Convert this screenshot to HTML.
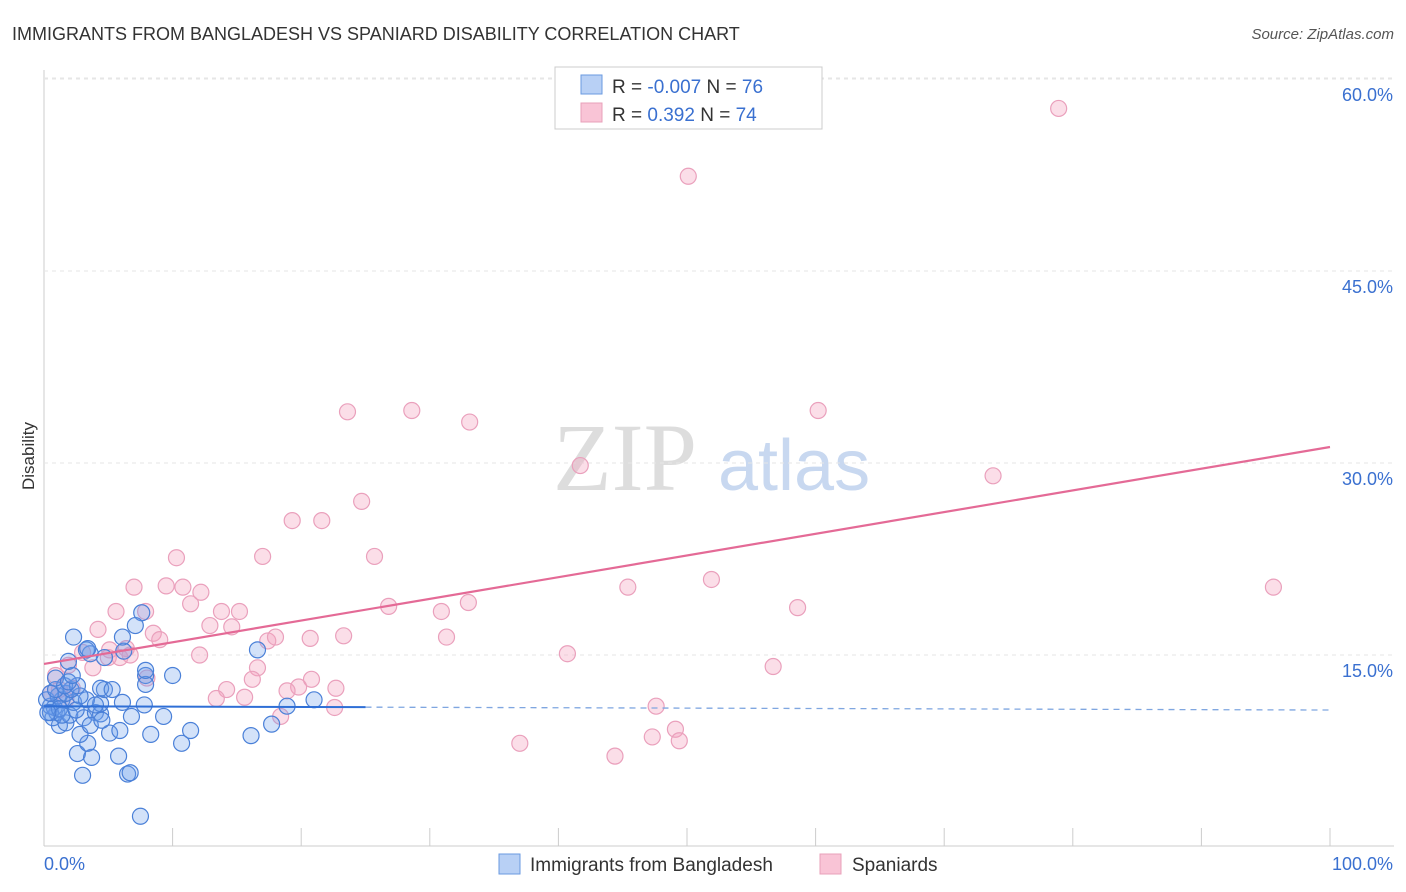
<!DOCTYPE html>
<html><head><meta charset="utf-8">
<style>
body{margin:0;background:#fff;font-family:"Liberation Sans",sans-serif;}
#wrap{position:relative;width:1406px;height:892px;overflow:hidden;}
</style></head>
<body>
<div id="wrap">
<svg id="svg" width="1406" height="892" xmlns="http://www.w3.org/2000/svg">
<text x="12" y="40" font-size="18" fill="#333">IMMIGRANTS FROM BANGLADESH VS SPANIARD DISABILITY CORRELATION CHART</text>
<text x="1394" y="39" font-size="15" fill="#555" font-style="italic" text-anchor="end">Source: ZipAtlas.com</text>
<text x="34" y="456" font-size="17" fill="#333" transform="rotate(-90 34 456)" text-anchor="middle">Disability</text>
<text x="553" y="490" font-size="96" fill="#ddd" font-family="Liberation Serif,serif">ZIP</text>
<text x="718" y="490" font-size="72" fill="#c8d8f0">atlas</text>
<g id="grid"></g>
<g id="marks"></g>
<g>
<rect x="555" y="67" width="267" height="62" fill="#fff" stroke="#ccc"/>
<rect x="581" y="75" width="21" height="19" fill="#b8d0f5" stroke="#6a9ae0"/>
<rect x="581" y="103" width="21" height="19" fill="#f9c4d6" stroke="#e8a0ba"/>
<text x="612" y="93" font-size="19" fill="#333">R = <tspan fill="#3a70d0">-0.007</tspan>   N = <tspan fill="#3a70d0">76</tspan></text>
<text x="612" y="121" font-size="19" fill="#333">R =  <tspan fill="#3a70d0"> 0.392</tspan>   N = <tspan fill="#3a70d0">74</tspan></text>
</g>
<g>
<rect x="499" y="854" width="21" height="20" fill="#b8d0f5" stroke="#6a9ae0"/>
<text x="530" y="871" font-size="19" fill="#333">Immigrants from Bangladesh</text>
<rect x="820" y="854" width="21" height="20" fill="#f9c4d6" stroke="#e8a0ba"/>
<text x="852" y="871" font-size="19" fill="#333">Spaniards</text>
</g>
</svg>
</div>
<script>
const yTicks=[15,30,45,60];
const yTickLabels=["15.0%","30.0%","45.0%","60.0%"];
const xTicks=[0,10,20,30,40,50,60,70,80,90,100];
const blueX=[7.5,3.0,6.5,6.7,2.6,5.8,3.7,3.4,2.8,5.1,5.9,8.3,10.7,11.4,16.1,17.7,1.2,1.7,0.7,1.0,2.0,3.1,4.0,4.4,6.8,9.3,4.4,7.8,18.9,21.0,6.1,0.5,0.8,0.2,1.4,2.3,3.3,4.0,1.1,1.7,2.8,0.5,0.9,2.1,1.6,2.6,4.7,4.4,0.9,1.9,2.2,7.9,10.0,7.9,7.9,1.9,4.7,3.6,3.3,3.4,6.2,16.6,6.1,2.3,7.6,7.1,0.5,1.2,3.6,4.5,5.3,1.4,0.3,2.5];
const blueY=[2.4,5.6,5.7,5.8,7.3,7.1,7.0,8.1,8.8,8.9,9.1,8.8,8.1,9.1,8.7,9.6,9.5,9.7,10.1,10.5,10.3,10.1,10.5,10.4,10.2,10.2,11.2,11.1,11.0,11.5,11.3,11.0,10.9,11.5,11.5,11.3,11.5,11.1,11.8,12.0,11.8,12.0,12.3,12.3,12.6,12.6,12.3,12.4,13.2,12.9,13.4,13.4,13.4,12.7,13.8,14.5,14.8,15.1,15.4,15.5,15.3,15.4,16.4,16.4,18.3,17.3,10.5,10.8,9.5,9.9,12.3,10.3,10.5,10.7];
const pinkX=[78.9,50.1,23.6,28.6,33.1,60.2,41.7,73.8,24.7,19.3,21.6,25.7,17.0,10.3,7.0,9.5,10.8,12.2,45.4,51.9,95.6,26.8,30.9,33.0,58.6,5.6,7.9,11.4,13.8,15.2,12.9,14.6,4.2,8.5,9.0,17.4,18.0,20.7,23.3,31.3,40.7,6.4,5.0,3.0,5.9,12.1,16.6,56.7,3.8,1.9,8.0,16.2,19.8,20.8,22.7,14.2,18.9,13.4,15.6,22.6,18.4,47.6,49.1,47.3,49.4,37.0,44.4,1.2,2.2,0.9,5.1,6.7,0.5,1.7];
const pinkY=[57.7,52.4,34.0,34.1,33.2,34.1,29.8,29.0,27.0,25.5,25.5,22.7,22.7,22.6,20.3,20.4,20.3,19.9,20.3,20.9,20.3,18.8,18.4,19.1,18.7,18.4,18.4,19.0,18.4,18.4,17.3,17.2,17.0,16.7,16.2,16.1,16.4,16.3,16.5,16.4,15.1,15.5,14.8,15.2,14.8,15.0,14.0,14.1,14.0,14.2,13.2,13.1,12.5,13.1,12.4,12.3,12.2,11.6,11.7,10.9,10.2,11.0,9.2,8.6,8.3,8.1,7.1,12.3,12.4,13.4,15.4,15.0,12.0,11.5];
const blueTrend=[11.0,10.7];
const pinkTrend=[14.3,31.25];
const NS="http://www.w3.org/2000/svg";
const X=v=>44+v*12.86, Y=v=>847-v*12.8;
function mk(t,a,p){const e=document.createElementNS(NS,t);for(const k in a)e.setAttribute(k,a[k]);p.appendChild(e);return e;}
const grid=document.getElementById('grid'),marks=document.getElementById('marks');
mk('line',{x1:44,y1:70,x2:44,y2:846,stroke:'#ccc'},grid);
mk('line',{x1:44,y1:846,x2:1394,y2:846,stroke:'#ccc'},grid);
mk('line',{x1:44,y1:78,x2:1394,y2:78,stroke:'#e6e6e6','stroke-dasharray':'4,4'},grid);
yTicks.forEach((t,i)=>{
 const l=mk('line',{x1:44,y1:Y(t),x2:1394,y2:Y(t),stroke:'#e6e6e6','stroke-dasharray':'4,4'},grid);
 
 
 const tx=mk('text',{x:1393,y:Y(t)+22,'font-size':18,fill:'#3a70d0','text-anchor':'end'},grid);
 tx.textContent=yTickLabels[i];
 
 
});
xTicks.forEach(t=>{
 if(t===0)return;
 const l=mk('line',{x1:X(t),y1:828,x2:X(t),y2:846,stroke:'#ccc'},grid);
 
 
});
const x0=mk('text',{x:44,y:870,'font-size':18,fill:'#3a70d0'},grid);x0.textContent='0.0%';


const x1=mk('text',{x:1393,y:870,'font-size':18,fill:'#3a70d0','text-anchor':'end'},grid);x1.textContent='100.0%';


function pts(xs,ys,fill,stroke,name){xs.forEach((x,i)=>{
 const c=mk('circle',{cx:X(x),cy:Y(ys[i]),r:8,fill:fill,stroke:stroke,'stroke-width':1.2},marks);
 
 
});}
pts(pinkX,pinkY,'rgba(244,160,190,0.35)','#eaa0bc','spaniard-point');
pts(blueX,blueY,'rgba(110,160,235,0.3)','#4a80d8','bangladesh-point');
const bt=v=>blueTrend[0]+(blueTrend[1]-blueTrend[0])*v/100;
let l=mk('line',{x1:X(0),y1:Y(bt(0)),x2:X(25),y2:Y(bt(25)),stroke:'#2f6fd6','stroke-width':2},marks);


l=mk('line',{x1:X(25),y1:Y(bt(25)),x2:X(100),y2:Y(bt(100)),stroke:'#7fa6e0','stroke-width':1.3,'stroke-dasharray':'6,5'},marks);


l=mk('line',{x1:X(0),y1:Y(pinkTrend[0]),x2:X(100),y2:Y(pinkTrend[1]),stroke:'#e46a96','stroke-width':2.2},marks);


</script>
</body></html>
